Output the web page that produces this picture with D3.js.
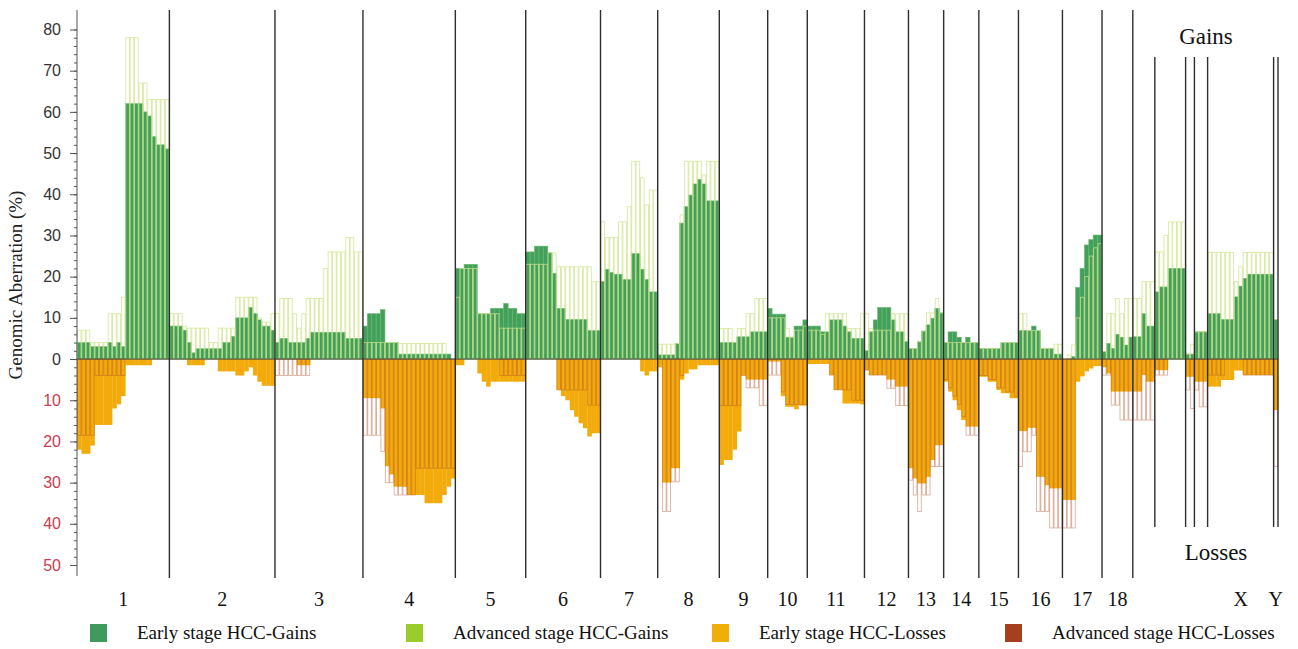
<!DOCTYPE html>
<html>
<head>
<meta charset="utf-8">
<script src="https://cdn.jsdelivr.net/npm/d3@7"></script>
<style>
  body { margin: 0; background: #fff; }
  svg text { font-family: "Liberation Serif", "Times New Roman", serif; }
  .yaxis text { font-family: "Liberation Sans", Arial, sans-serif; }
</style>
</head>
<body>
<svg id="chart" width="1298" height="649"></svg>
<script>
// chromosomes and number of bins drawn for each one
const chromosomes = ['1','2','3','4','5','6','7','8','9','10','11','12','13','14','15','16','17','18','19','20','21','22','X','Y'];
const chromLabels = ['1','2','3','4','5','6','7','8','9','10','11','12','13','14','15','16','17','18','','','','','X','Y'];
const binCounts = [21,24,20,21,16,17,13,14,11,9,13,10,8,8,9,10,9,7,5,7,2,3,15,1];
// separators in front of these get the short line
const shortSeparators = ['20','21','22','X','Y','end'];

// % of samples with a gain, early stage HCC (one list per chromosome)
const earlyGains = [
  [4,4,4,3,3,3,3,4,3,4,3,62,62,62,62,60,59,54,52,52,51],
  [8,8,8,7,4,1.5,2.5,2.5,2.5,2.5,2.5,2.5,4,4,5.5,10,10,10,12.5,11,9.5,8,8,7],
  [4,5,5,4,4,4,4,5,6.5,6.5,6.5,6.5,6.5,6.5,6.5,6.5,5,5,5,5],
  [8,11,11,11,12,4,4,4,1.2,1.2,1.2,1.2,1.2,1.2,1.2,1.2,1.2,1.2,1.2,1.2,0],
  [22,22,23,23,23,11,11,11,12.3,12.3,12.3,13.5,12.3,12.3,11,11],
  [26,26,27.4,27.4,27.4,25.8,20.8,12.3,12.3,9.6,9.6,9.6,9.6,9.6,6.9,6.9,6.9],
  [18.8,21.8,21,20.6,20.6,19.3,19.3,25.6,25.6,21.8,19.3,16.3,16.3],
  [1,1,1,1,3.8,33,37,39.8,42.5,43.6,42.5,38.4,38.4,38.4],
  [4,4,4,4,5.4,5.4,5.4,6.6,6.6,6.6,6.6],
  [12.3,10.9,10.9,10.9,5.3,5.3,8,8,9.5],
  [8,8,8,6.6,6.6,9.5,9.5,9.5,8,6.6,5,5,5],
  [2,6.6,9.5,12.5,12.5,12.5,9.5,6.6,6.6,4.2],
  [2.6,2.6,4.2,6.8,8.3,9.9,12.3,11.2],
  [4,6.6,6.6,5.3,4,5.3,4,4],
  [2.6,2.6,2.6,2.6,2.6,4,4,4,4],
  [6.9,6.9,6.9,8,6.9,2.6,2.6,2.6,1.2,1.2],
  [0,0,0.6,17.4,22,27.7,29,30.1,30.1],
  [1.8,3.8,2.6,6,5.3,3.4,5.3],
  [5.4,5.4,11,8,8],
  [16.3,17.5,17.5,22,22,22,22],
  [1.2,1.2],
  [6.6,6.6,6.6],
  [11,11,11,9.6,9.6,9.6,15.1,17.7,19.6,20.6,20.6,20.6,20.6,20.6,20.6],
  [9.6]
];

// % gains, advanced stage HCC
const advancedGains = [
  [7,7,7,4,4,4,4,11,11,11,15,78,78,78,67,67,63,63,63,63,63],
  [11,11,11,8,7.5,7.5,7.5,7.5,7.5,4,4,7.5,7.5,7.5,7.5,15,15,15,15,15,10,9,9,11],
  [11,14.7,14.7,14.7,11,7.5,11,14.7,14.7,14.7,14.7,22,26,26,26,26,29.5,29.5,26,26],
  [4,4,4,4,4,4,4,4,3.8,3.8,3.8,3.8,3.8,3.8,3.8,3.8,3.8,3.8,3.8,0,0],
  [15,22,22,22,22,11,11,11,11,11,7.5,7.5,7.5,7.5,7.5,7.5],
  [23,23,23,23,23,25.8,25.8,22.4,22.4,22.4,22.4,22.4,22.4,22.4,22.4,18.8,18.8],
  [33.3,29.5,29.5,29.5,33.3,33.3,37,48,48,44,37.4,41,41],
  [3.6,3.6,3.6,3.6,3.8,35,48,48,48,48,44.7,48,48,48],
  [7.4,7.4,7.4,4,7.4,7.4,11,11,14.7,14.7,14.7],
  [10,10,10,10,7.4,5.3,7,7,8],
  [7,7,7,6,11,11,11,11,11,7.4,7.4,7.4,11],
  [11,7.4,7,7,7,7,11,11,11,11],
  [2.6,2.6,4.2,6.8,11.2,11.2,14.7,11.2],
  [4,4,4,4,4,4,4,4],
  [2.6,2.6,2.6,2.6,2.6,4,4,4,4],
  [11,11,6.9,6.9,6.9,2.6,2.6,2.6,3.6,3.6],
  [0,1,3.4,10,15,20,25,27,28],
  [1.8,11,11,14.7,11,14.7,14.7],
  [14.7,14.7,18.8,18.8,18.8],
  [26,26,30,33.3,33.3,33.3,33.3],
  [1.2,3.6],
  [6.6,6.6,6.6],
  [25.9,25.9,25.9,25.9,25.9,25.9,18.8,22.4,25.9,25.9,25.9,25.9,25.9,25.9,25.9],
  [9.6]
];

// % losses, early stage HCC
const earlyLosses = [
  [22,23,23,21,16,16,16,16,12,11,9,1.5,1.5,1.5,1.5,1.5,1.5,0,0,0,0],
  [0,0,0,0,1.5,1.5,1.5,1.5,0,0,0,3,3,3,3,4,4,3,2,4,5.5,6.5,6.5,6.5],
  [0,0,0,0,0,1.5,1.5,1.5,0,0,0,0,0,0,0,0,0,0,0,0],
  [9.5,9.5,9.5,9.5,12,26,28,31,31,31,33,33,33,33,35,35,35,35,33,31,29],
  [1.5,1.5,0,0,0,3.5,5.5,6.7,5.5,5.5,5.5,5.5,5.5,5.5,5.5,5.5],
  [0,0,0,0,0,0,0,7.5,9,10,12.4,14,15.6,16.8,18.8,18,18],
  [0,0,0,0,0,0,0,0,0,3,4,3,3],
  [2,30,30,26.5,26.5,5,3.5,2.5,2.5,1.5,1.5,1.5,1.5,1.5],
  [25.7,24.5,24.5,22,17.6,4,5,5,5,5,5],
  [0.6,0.6,0.6,9,11.6,11.6,12.2,11.3,11.3],
  [1.2,1.2,1.2,1.2,1.2,3.9,7.5,7.5,10.8,10.8,10.8,10.8,11],
  [2.7,3.9,3.9,3.9,3.9,5,5,6.7,6.7,6.7],
  [26.5,29,30.2,30.2,28.6,24.5,20.9,20.9],
  [5.5,7.9,10,12.4,14.8,16.4,16.4,16.4],
  [4.3,4.3,5.5,5.5,7.5,8.3,8.3,9.5,9.5],
  [17.5,17.5,16.7,16.7,28.6,28.6,30.6,31.4,31.4,31.4],
  [34.2,34.2,34.2,5.5,4.2,3,2.3,1.7,1.7],
  [2,3.5,7.9,7.9,7.9,7.9,7.9],
  [7.9,7.9,3.9,5.5,5.5],
  [2.7,2.7,2.7,0,0,0,0],
  [4.3,4.3],
  [5.5,5.5,5.5],
  [6.7,6.7,6.7,5.1,5.1,5.1,2.8,2.8,3.9,3.9,3.9,3.9,3.9,3.9,3.9],
  [12.4]
];

// % losses, advanced stage HCC
const advancedLosses = [
  [18.5,18.5,18.5,18.5,4,4,4,4,4,4,4,0,0,0,0,0,0,0,0,0,0],
  [0,0,0,0,0,0,0,0,0,0,0,0,0,0,0,0,0,0,0,0,0,0,0,0],
  [4,4,4,4,4,4,4,4,0,0,0,0,0,0,0,0,0,0,0,0],
  [18.5,18.5,18.5,18.5,22.5,30,30,33,33,33,33,33,26.5,26.5,26.5,26.5,26.5,26.5,26.5,26.5,26.5],
  [0,0,0,0,0,0,0,0,0,0,4,4,4,4,4,4],
  [0,0,0,0,0,0,0,7.5,7.5,7.5,7.5,7.5,7.5,7.5,11.2,11.2,11.2],
  [0,0,0,0,0,0,0,0,0,0,0,0,0],
  [0,37,37,29.8,29.8,4,0,0,0,0,0,0,0,0],
  [11.3,11.3,11.3,11.3,11.3,4,7,7,7,11.3,11.3],
  [3.9,3.9,3.9,8,11,11,11,11,11],
  [0,0,0,0,0,3.9,7.5,7.5,7.5,7.5,10,10,10],
  [2.7,3.9,3.9,3.9,3.9,7.1,7.1,11.3,11.3,11.3],
  [29.4,33,37,33,33,26.1,26.1,26.1],
  [5,7,9,11,14,18.5,18.5,18.5],
  [4,4,5,5,7,7,8,8,9],
  [26.1,22.5,22.5,18.5,37,37,37,41,41,41],
  [41,41,41,0,0,0,0,0,0],
  [3.9,3.9,11.2,11.2,14.8,14.8,14.8],
  [14.8,14.8,14.8,14.8,14.8],
  [3.9,3.9,3.9,0,0,0,0],
  [7.5,12],
  [7.5,11.6,11.6],
  [3.9,3.9,3.9,3.9,0,0,0,0,3.9,3.9,3.9,3.9,3.9,3.9,3.9],
  [26.1]
];

const yTicks = [-50,-40,-30,-20,-10,0,10,20,30,40,50,60,70,80];
const legendLabels = ['Early stage HCC-Gains','Advanced stage HCC-Gains','Early stage HCC-Losses','Advanced stage HCC-Losses'];
const legendColors = ['#3f9a5e','#9ccc2c','#f0ae08','#a5401f'];

// ---- build flat bin table ----
const bins = [];
const starts = [];
let k = 0;
chromosomes.forEach((c, ci) => {
  starts.push(k);
  for (let j = 0; j < binCounts[ci]; j++) {
    bins.push({
      i: k, chrom: c,
      eg: earlyGains[ci][j], ag: advancedGains[ci][j],
      el: earlyLosses[ci][j], al: advancedLosses[ci][j]
    });
    k++;
  }
});
const total = k;

const svg = d3.select('#chart');
const x = d3.scaleLinear().domain([0, total]).range([77, 1278]);
const y = d3.scaleLinear().domain([-50, 80]).range([565, 29.5]);
const y0 = y(0);
const bw = d => x(d.i + 1) - x(d.i);

// early gains (filled)
svg.append('g').selectAll('rect')
  .data(bins.filter(d => d.eg > 0))
  .join('rect')
  .attr('x', d => x(d.i))
  .attr('width', bw)
  .attr('y', d => y(d.eg))
  .attr('height', d => y0 - y(d.eg))
  .attr('fill', '#43a05c')
  .attr('stroke', '#66b86c')
  .attr('stroke-width', 0.6);

// advanced gains (outlined)
svg.append('g').selectAll('rect')
  .data(bins.filter(d => d.ag > 0))
  .join('rect')
  .attr('x', d => x(d.i) + 0.4)
  .attr('width', d => bw(d) - 0.8)
  .attr('y', d => y(d.ag))
  .attr('height', d => y0 - y(d.ag))
  .attr('fill', 'none')
  .attr('stroke', '#cfe48c')
  .attr('stroke-opacity', 0.8)
  .attr('stroke-width', 0.9);

// early losses (filled)
svg.append('g').selectAll('rect')
  .data(bins.filter(d => d.el > 0))
  .join('rect')
  .attr('x', d => x(d.i))
  .attr('width', d => bw(d) + 0.2)
  .attr('y', y0)
  .attr('height', d => y(-d.el) - y0)
  .attr('fill', '#f2ab0a');

// advanced losses (outlined)
svg.append('g').selectAll('rect')
  .data(bins.filter(d => d.al > 0))
  .join('rect')
  .attr('x', d => x(d.i) + 0.4)
  .attr('width', d => bw(d) - 0.8)
  .attr('y', y0)
  .attr('height', d => y(-d.al) - y0)
  .attr('fill', 'none')
  .attr('stroke', '#b4532a')
  .attr('stroke-opacity', 0.45)
  .attr('stroke-width', 0.9);

// zero line
svg.append('line')
  .attr('x1', x(0)).attr('x2', x(total))
  .attr('y1', y0).attr('y2', y0)
  .attr('stroke', '#3a3a3a').attr('stroke-width', 1);

// chromosome separators
const seps = chromosomes.slice(1).map((c, ci) => ({c: c, at: starts[ci + 1]}));
seps.push({c: 'end', at: total});
const isShort = d => shortSeparators.includes(d.c);
svg.append('g').selectAll('line')
  .data(seps)
  .join('line')
  .attr('x1', d => x(d.at)).attr('x2', d => x(d.at))
  .attr('y1', d => isShort(d) ? 57 : 10)
  .attr('y2', d => isShort(d) ? 527 : 578)
  .attr('stroke', '#2e2e2e')
  .attr('stroke-width', 1.4);

// y axis
const ya = svg.append('g').attr('class', 'yaxis').attr('transform', `translate(${x(0)},0)`);
ya.call(d3.axisLeft(y).tickValues(d3.range(-50, 81, 2)).tickSize(3).tickFormat(''))
  .call(g => g.select('.domain').remove())
  .call(g => g.selectAll('line').attr('stroke', '#555'));
const major = svg.append('g').attr('class', 'yaxis').attr('transform', `translate(${x(0)},0)`)
  .call(d3.axisLeft(y).tickValues(yTicks).tickSize(7).tickPadding(9).tickFormat(d => Math.abs(d)));
major.select('.domain').remove();
major.selectAll('line').attr('stroke', '#555');
major.selectAll('text')
  .attr('font-size', 16)
  .attr('fill', d => d < 0 ? '#cf3a4e' : '#333');
svg.append('line')
  .attr('x1', x(0)).attr('x2', x(0))
  .attr('y1', 10).attr('y2', 576)
  .attr('stroke', '#555').attr('stroke-width', 1);

// y title
svg.append('text')
  .attr('transform', 'translate(22,285) rotate(-90)')
  .attr('text-anchor', 'middle')
  .attr('font-size', 19)
  .attr('fill', '#222')
  .text('Genomic Aberration (%)');

// chromosome labels
svg.append('g').selectAll('text')
  .data(chromosomes.map((c, ci) => ({label: chromLabels[ci], mid: starts[ci] + binCounts[ci] / 2})))
  .join('text')
  .attr('x', d => x(d.mid))
  .attr('y', 606)
  .attr('text-anchor', 'middle')
  .attr('font-size', 20)
  .attr('fill', '#111')
  .text(d => d.label);

svg.append('text').attr('x', 1206).attr('y', 44).attr('text-anchor', 'middle')
  .attr('font-size', 23).attr('fill', '#111').text('Gains');
svg.append('text').attr('x', 1216).attr('y', 560).attr('text-anchor', 'middle')
  .attr('font-size', 23).attr('fill', '#111').text('Losses');

// legend
const legendX = [90, 406, 712, 1005];
const lg = svg.append('g').selectAll('g')
  .data(legendLabels)
  .join('g')
  .attr('transform', (d, i) => `translate(${legendX[i]},624)`);
lg.append('rect').attr('width', 17).attr('height', 18).attr('fill', (d, i) => legendColors[i]);
lg.append('text').attr('x', 47).attr('y', 15).attr('font-size', 19).attr('fill', '#111').text(d => d);
</script>
</body>
</html>
